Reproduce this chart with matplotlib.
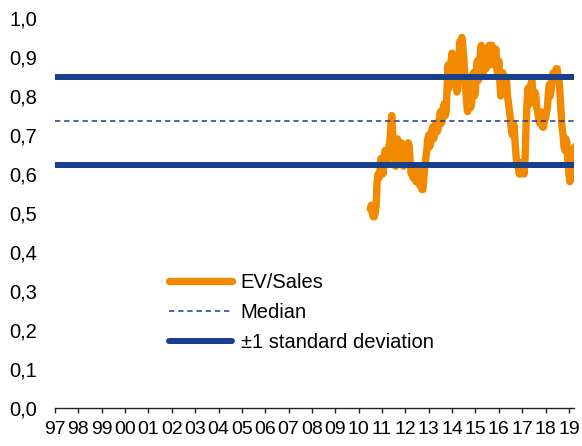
import numpy as np
import matplotlib.pyplot as plt

plt.rcParams['font.family'] = ['Liberation Sans', 'DejaVu Sans']

# EV/Sales multiple, two readings per month, from mid-2010 to early 2019
ev_sales = [
    0.51, 0.52, 0.50, 0.49, 0.49, 0.50, 0.52, 0.58, 0.60, 0.59, 0.61, 0.64, 0.63, 0.60, 0.62, 0.66, 0.66, 0.63, 0.64, 0.67,
    0.68, 0.72, 0.75, 0.70, 0.66, 0.64, 0.62, 0.66, 0.69, 0.65, 0.63, 0.66, 0.68, 0.64, 0.62, 0.65, 0.67, 0.63, 0.64, 0.68,
    0.67, 0.63, 0.60, 0.61, 0.59, 0.62, 0.61, 0.58, 0.59, 0.61, 0.60, 0.57, 0.58, 0.56, 0.56, 0.59, 0.62, 0.64, 0.66, 0.69,
    0.70, 0.67, 0.68, 0.71, 0.72, 0.69, 0.70, 0.73, 0.73, 0.71, 0.72, 0.74, 0.76, 0.73, 0.74, 0.77, 0.78, 0.75, 0.76, 0.83,
    0.88, 0.82, 0.83, 0.89, 0.91, 0.84, 0.85, 0.90, 0.89, 0.81, 0.82, 0.90, 0.94, 0.92, 0.95, 0.93, 0.90, 0.86, 0.82, 0.78,
    0.76, 0.80, 0.83, 0.77, 0.78, 0.85, 0.86, 0.80, 0.81, 0.87, 0.89, 0.84, 0.85, 0.91, 0.93, 0.87, 0.86, 0.91, 0.92, 0.87,
    0.88, 0.92, 0.93, 0.88, 0.89, 0.93, 0.92, 0.88, 0.90, 0.92, 0.87, 0.85, 0.89, 0.84, 0.80, 0.84, 0.86, 0.81, 0.82, 0.85,
    0.84, 0.80, 0.78, 0.76, 0.74, 0.71, 0.70, 0.73, 0.72, 0.67, 0.64, 0.62, 0.62, 0.60, 0.60, 0.62, 0.63, 0.61, 0.60, 0.64,
    0.72, 0.78, 0.82, 0.79, 0.78, 0.83, 0.84, 0.80, 0.79, 0.81, 0.80, 0.77, 0.76, 0.74, 0.73, 0.76, 0.75, 0.72, 0.72, 0.75,
    0.74, 0.76, 0.77, 0.81, 0.83, 0.80, 0.82, 0.85, 0.86, 0.84, 0.85, 0.87, 0.87, 0.85, 0.84, 0.80, 0.76, 0.72, 0.70, 0.67,
    0.66, 0.69, 0.68, 0.63, 0.60, 0.58, 0.59, 0.63, 0.66, 0.64, 0.67,
]
start_year = 2010.5
steps_per_year = 24
median_value = 0.735
std_upper = 0.850
std_lower = 0.623

tick_years = list(range(1997, 2020))
tick_labels = [str(y)[-2:] for y in tick_years]
x_start, x_end = 1997, 2019.22

years = start_year + np.arange(len(ev_sales)) / steps_per_year

orange = '#f28a00'
navy = '#183f8a'

fig = plt.figure(figsize=(5.82, 4.46), dpi=100)
ax = fig.add_axes([55 / 582, 38 / 446, 519 / 582, 390 / 446])

ax.plot(years, ev_sales, color=orange, lw=5.3, solid_capstyle='round',
        solid_joinstyle='round', label='EV/Sales', zorder=2)
ax.plot([x_start, x_end], [median_value, median_value], color=navy, lw=1.1,
        ls=(0, (3.5, 2.5)), label='Median', zorder=3)
ax.plot([x_start, x_end], [std_upper, std_upper], color=navy, lw=4.3,
        solid_capstyle='round', label='\u00b11 standard deviation', zorder=3)
ax.plot([x_start, x_end], [std_lower, std_lower], color=navy, lw=4.3,
        solid_capstyle='round', zorder=3)

ax.set_xlim(x_start, x_end)
ax.set_ylim(0, 1.0)
ax.set_yticks(np.arange(0, 1.01, 0.1))
ax.set_yticklabels([f'{v:.1f}'.replace('.', ',') for v in np.arange(0, 1.01, 0.1)])
ax.set_xticks(tick_years)
ax.set_xticklabels(tick_labels)

for s in ['top', 'right', 'left']:
    ax.spines[s].set_visible(False)
ax.spines['bottom'].set_color('#222222')
ax.spines['bottom'].set_linewidth(1.0)
ax.tick_params(axis='y', length=0, pad=13, labelsize=14.5)
ax.tick_params(axis='x', length=3.5, width=1.0, color='#222222', pad=6, labelsize=14)

ax.legend(loc='upper left', bbox_to_anchor=(0.185, 0.393), frameon=False,
          fontsize=14.5, handlelength=3.1, handletextpad=0.45, labelspacing=0.55)

fig.savefig('out.png', dpi=100)
